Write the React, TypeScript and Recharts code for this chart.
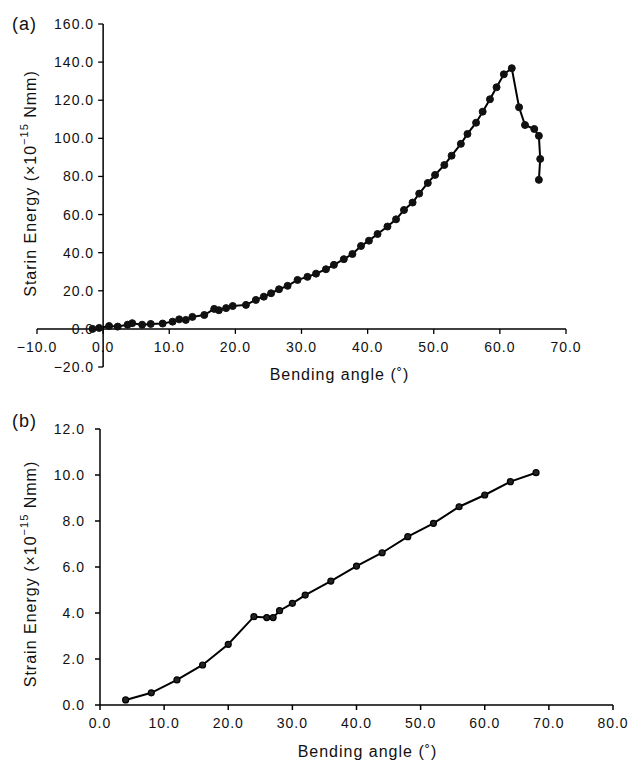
import { LineChart, Line, XAxis, YAxis, ReferenceLine, ReferenceDot } from 'recharts';

// (a) bending angle vs strain energy
const angleA = [
  -1.6, -0.6, 0.9, 2.2, 3.7, 4.4, 5.9, 7.2, 9.0, 10.5, 11.5, 12.5, 13.5, 15.3, 16.8, 17.5, 18.6, 19.6,
  21.6, 23.1, 24.3, 25.4, 26.6, 27.9, 29.4, 30.9, 32.2, 33.7, 34.9, 36.4, 37.7, 39.0, 40.2, 41.5, 43.0,
  44.3, 45.5, 46.8, 47.8, 49.1, 50.2, 51.6, 52.7, 54.1, 55.1, 56.4, 57.4, 58.5, 59.5, 60.6, 61.8,
  62.9, 63.8, 65.2, 65.9, 66.1, 65.9,
];
const energyA = [
  0.0, 0.5, 1.5, 1.2, 2.2, 3.0, 2.2, 2.6, 2.8, 3.8, 5.0, 4.7, 6.3, 7.3, 10.5, 9.8, 10.9, 12.0,
  12.6, 15.2, 16.9, 18.7, 20.8, 22.6, 25.7, 27.3, 29.0, 31.3, 33.6, 36.6, 39.3, 43.5, 46.3, 49.8, 53.7,
  57.5, 62.4, 66.3, 71.0, 76.6, 80.8, 86.0, 90.9, 97.1, 102.3, 108.2, 114.0, 120.5, 126.8, 133.6, 136.8,
  116.3, 107.0, 104.9, 101.3, 89.2, 78.2,
];

// (b)
const angleB = [4, 8, 12, 16, 20, 24, 26, 27, 28, 30, 32, 36, 40, 44, 48, 52, 56, 60, 64, 68];
const energyB = [
  0.22, 0.53, 1.09, 1.74, 2.64, 3.84, 3.8, 3.8, 4.1, 4.42, 4.78, 5.39, 6.04, 6.62, 7.32, 7.9, 8.62, 9.13,
  9.71, 10.1,
];

const ticksAX = [-10, 0, 10, 20, 30, 40, 50, 60, 70];
const ticksAY = [-20, 0, 20, 40, 60, 80, 100, 120, 140, 160];
const ticksBX = [0, 10, 20, 30, 40, 50, 60, 70, 80];
const ticksBY = [0, 2, 4, 6, 8, 10, 12];

const dataA = angleA.map((x, i) => ({ x, y: energyA[i] }));
const dataB = angleB.map((x, i) => ({ x, y: energyB[i] }));

const ink = '#111';
const font = '"Liberation Sans", Arial, Helvetica, sans-serif';
const fmt = (v: number) => v.toFixed(1).replace('-', '\u2212');

function YTitle(props: any) {
  const { viewBox, word, cx, shift } = props;
  const vb = viewBox || { x: 0, y: 0, width: 0, height: 0 };
  const tx = vb.x + cx;
  const ty = vb.y + vb.height / 2 + shift;
  return (
    <text
      x={tx}
      y={ty}
      transform={`rotate(-90 ${tx} ${ty})`}
      textAnchor="middle"
      dominantBaseline="central"
      fontSize={16}
      fill={ink}
    >
      {word} Energy (×10<tspan dy={-6} fontSize={11}>−15</tspan>
      <tspan dy={6}> Nmm)</tspan>
    </text>
  );
}

function XTitle(props: any) {
  const { viewBox, dx, dy } = props;
  const vb = viewBox || { x: 0, y: 0, width: 0, height: 0 };
  return (
    <text x={vb.x + vb.width / 2 + dx} y={vb.y + dy} textAnchor="middle" fontSize={16} fill={ink}>
      Bending angle (˚)
    </text>
  );
}

// tick marks + labels hung on the axes that cross at the origin
const xTickShape = (label: string) => (p: any) => (
  <g>
    <line x1={p.cx} y1={p.cy} x2={p.cx} y2={p.cy + 5} stroke="#000" strokeWidth={1.3} />
    <text x={p.cx} y={p.cy + 23} textAnchor="middle" fontSize={14} fill={ink}>
      {label}
    </text>
  </g>
);
const yTickShape = (label: string) => (p: any) => (
  <g>
    <line x1={p.cx - 5} y1={p.cy} x2={p.cx} y2={p.cy} stroke="#000" strokeWidth={1.3} />
    <text x={p.cx - 9} y={p.cy + 5} textAnchor="end" fontSize={14} fill={ink}>
      {label}
    </text>
  </g>
);

const panelLetter = (top: number): React.CSSProperties => ({
  position: 'absolute',
  left: 12,
  top,
  fontSize: 18,
  lineHeight: '20px',
  color: ink,
});

export default function App() {
  return (
    <div
      style={{
        position: 'absolute',
        left: 0,
        top: 0,
        width: 629,
        height: 762,
        background: '#fff',
        fontFamily: font,
        letterSpacing: '1px',
      }}
    >
      <div style={panelLetter(14)}>(a)</div>
      <div style={panelLetter(411)}>(b)</div>

      <div style={{ position: 'absolute', left: 0, top: 0 }}>
        <LineChart width={629} height={395} data={dataA} margin={{ top: 24, right: 63, left: 0, bottom: 0 }}>
          <XAxis
            type="number"
            dataKey="x"
            domain={[-10, 70]}
            ticks={ticksAX}
            axisLine={false}
            tickLine={false}
            tick={false}
            height={28}
            label={<XTitle dx={38} dy={13} />}
          />
          <YAxis
            type="number"
            dataKey="y"
            domain={[-20, 160]}
            ticks={ticksAY}
            axisLine={false}
            tickLine={false}
            tick={false}
            width={37}
            label={<YTitle word="Starin" cx={30} shift={-12} />}
          />
          <ReferenceLine y={0} stroke="#000" strokeWidth={1.5} />
          <ReferenceLine x={0} stroke="#000" strokeWidth={1.5} />
          {ticksAX.map((v) => (
            <ReferenceDot key={'ax' + v} x={v} y={0} ifOverflow="visible" shape={xTickShape(fmt(v))} />
          ))}
          {ticksAY.map((v) => (
            <ReferenceDot key={'ay' + v} x={0} y={v} ifOverflow="visible" shape={yTickShape(fmt(v))} />
          ))}
          <Line
            type="linear"
            dataKey="y"
            stroke="#000"
            strokeWidth={2}
            dot={{ r: 3.5, fill: '#111', stroke: '#111', strokeWidth: 1 }}
            isAnimationActive={false}
          />
        </LineChart>
      </div>

      <div style={{ position: 'absolute', left: 0, top: 395 }}>
        <LineChart width={629} height={367} data={dataB} margin={{ top: 34, right: 16, left: 0, bottom: 0 }}>
          <XAxis
            type="number"
            dataKey="x"
            domain={[0, 80]}
            ticks={ticksBX}
            tickFormatter={fmt}
            stroke="#000"
            strokeWidth={1.5}
            tickSize={5}
            tickMargin={8}
            tick={{ fontSize: 14, fill: ink }}
            height={57}
            label={<XTitle dx={11} dy={52} />}
          />
          <YAxis
            type="number"
            dataKey="y"
            domain={[0, 12]}
            ticks={ticksBY}
            tickFormatter={fmt}
            stroke="#000"
            strokeWidth={1.5}
            tickSize={5}
            tickMargin={10}
            tick={{ fontSize: 14, fill: ink }}
            width={100}
            label={<YTitle word="Strain" cx={30} shift={7} />}
          />
          <Line
            type="linear"
            dataKey="y"
            stroke="#000"
            strokeWidth={2}
            dot={{ r: 3, fill: '#222', stroke: '#000', strokeWidth: 1.2 }}
            isAnimationActive={false}
          />
        </LineChart>
      </div>
    </div>
  );
}
